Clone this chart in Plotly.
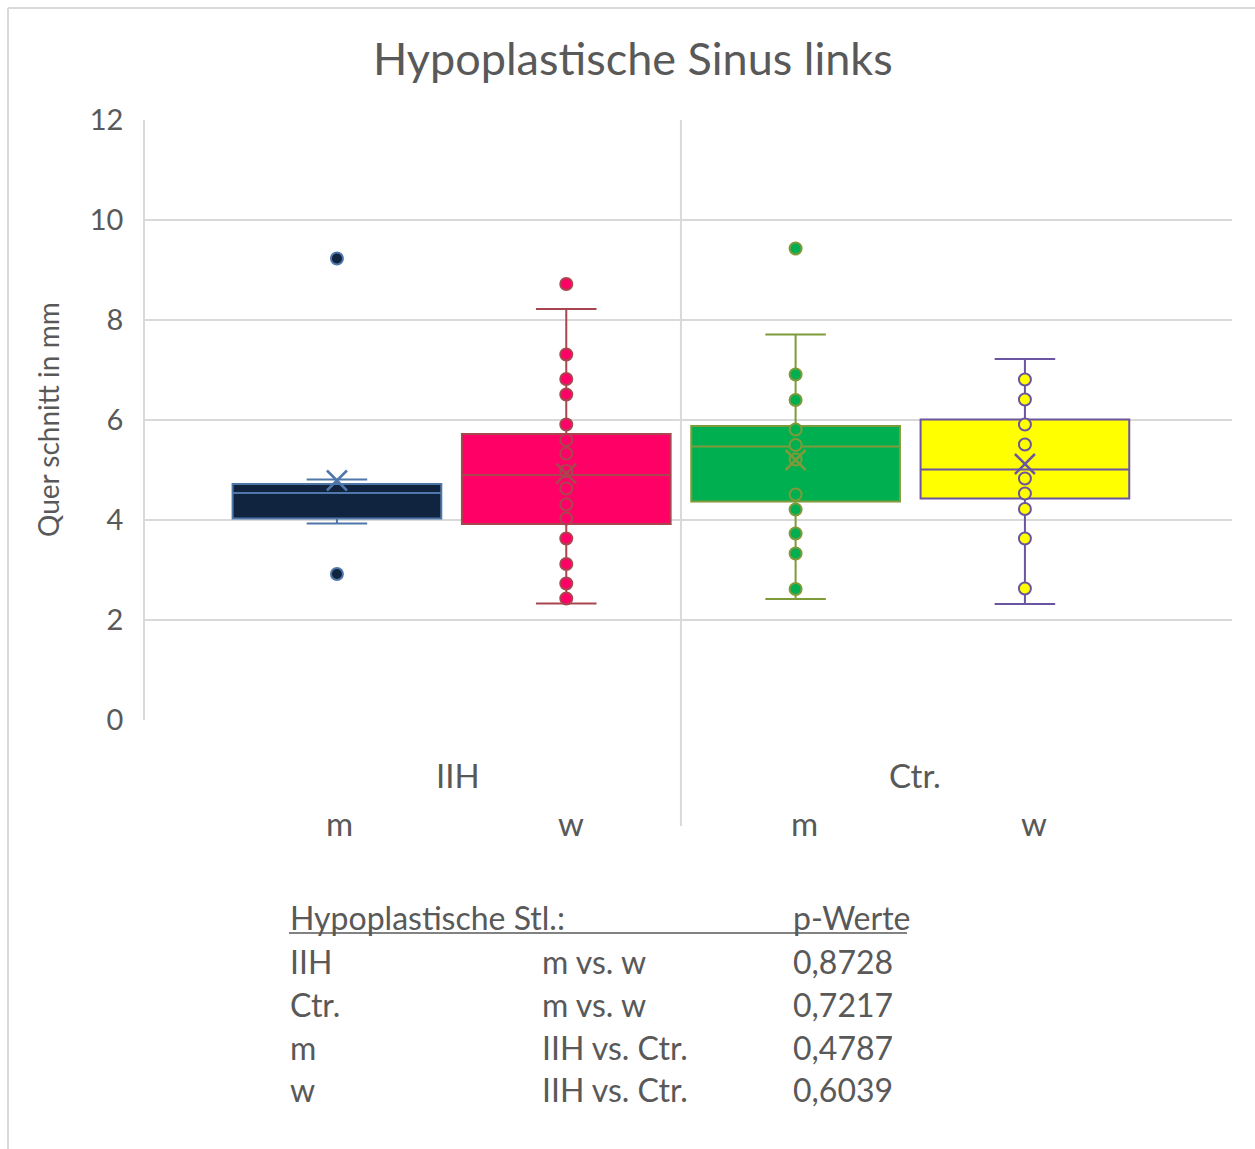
import plotly.graph_objects as go

# Groups and sexes along the category axis
groups = ["IIH", "Ctr."]
sexes = ["m", "w", "m", "w"]

# Box statistics (Querschnitt in mm)
q1 = [4.03, 3.92, 4.37, 4.43]
median = [4.54, 4.90, 5.47, 5.01]
q3 = [4.72, 5.72, 5.88, 6.01]
lower = [3.93, 2.33, 2.42, 2.32]
upper = [4.81, 8.22, 7.71, 7.22]
mean = [4.79, 4.93, 5.20, 5.12]

# Individual points drawn on each box
points_iih_m = [9.23, 2.92]
points_iih_w = [8.72, 7.31, 6.82, 6.51, 5.91, 5.60, 5.33, 4.98, 4.63, 4.31, 4.03, 3.63, 3.12, 2.73, 2.43]
points_ctr_m = [9.43, 6.91, 6.40, 5.81, 5.50, 5.21, 4.51, 4.21, 3.73, 3.33, 2.62]
points_ctr_w = [6.81, 6.41, 5.91, 5.51, 4.83, 4.53, 4.22, 3.63, 2.63]
points = [points_iih_m, points_iih_w, points_ctr_m, points_ctr_w]

# p-value table below the chart
table_header = ["Hypoplastische Stl.:", "p-Werte"]
table_col1 = ["IIH", "Ctr.", "m", "w"]
table_col2 = ["m vs. w", "m vs. w", "IIH vs. Ctr.", "IIH vs. Ctr."]
table_pvalues = ["0,8728", "0,7217", "0,4787", "0,6039"]

fills = ["#10243F", "#FF0066", "#00B050", "#FFFF00"]
lines = ["#4F77AA", "#A8464F", "#7E9A3A", "#6B55A0"]

FONT = "Lato"
GREY = "#595959"
W, H = 1255, 1149
L, R, T, B = 145, 1232, 120, 720  # plot area in pixels


def px(x):
    return (x - L) / (R - L)


def py(y):
    return (B - y) / (B - T)


def label(text, x, y, size, xref="paper", xanchor="center", angle=0):
    return dict(text=text, x=x, y=py(y), xref=xref, yref="paper",
                xanchor=xanchor, yanchor="middle", textangle=angle,
                showarrow=False, font=dict(family=FONT, size=size, color=GREY))


fig = go.Figure()
positions = list(range(len(sexes)))
for i, pos in enumerate(positions):
    fig.add_trace(go.Box(
        x=[pos], q1=[q1[i]], median=[median[i]], q3=[q3[i]],
        lowerfence=[lower[i]], upperfence=[upper[i]],
        width=0.91, whiskerwidth=0.29,
        fillcolor=fills[i], line=dict(color=lines[i], width=2),
        boxpoints=False, hoverinfo="skip", showlegend=False,
    ))
    fig.add_trace(go.Scatter(
        x=[pos] * len(points[i]), y=points[i], mode="markers",
        marker=dict(size=12, color=fills[i], line=dict(color=lines[i], width=2)),
        hoverinfo="skip", showlegend=False,
    ))
    fig.add_trace(go.Scatter(
        x=[pos], y=[mean[i]], mode="markers",
        marker=dict(symbol="x-thin", size=20, line=dict(color=lines[i], width=2.5)),
        hoverinfo="skip", showlegend=False,
    ))

annotations = [
    label("Hypoplastische Sinus links", px(633), 58, 45),
    label("Quer schnitt in mm", px(48), 420, 28, angle=-90),
]
# category labels
label_offsets = [0.01, 0.02, 0.04, 0.04]
for i, s in enumerate(sexes):
    annotations.append(label(s, positions[i] + label_offsets[i], 823, 33, xref="x"))
for g, gx in zip(groups, [0.53, 2.52]):
    annotations.append(label(g, gx, 775, 33, xref="x"))
# table
annotations.append(label(table_header[0], px(288), 917, 32, xanchor="left"))
annotations.append(label(table_header[1], px(791), 917, 32, xanchor="left"))
row_y = [961, 1004, 1047, 1089]
for c1, c2, pv, ry in zip(table_col1, table_col2, table_pvalues, row_y):
    for txt, cx in zip([c1, c2, pv], [288, 540, 791]):
        annotations.append(label(txt, px(cx), ry, 32, xanchor="left"))

shapes = [
    # group divider
    dict(type="line", xref="x", yref="paper", x0=1.5, x1=1.5, y0=py(826), y1=1,
         line=dict(color="#D9D9D9", width=2), layer="below"),
    # table header underline
    dict(type="line", xref="paper", yref="paper", x0=px(289), x1=px(907),
         y0=py(933), y1=py(933), line=dict(color=GREY, width=1.5)),
    # chart frame
    dict(type="line", xref="paper", yref="paper", x0=px(8), x1=px(W), y0=py(8), y1=py(8),
         line=dict(color="#D9D9D9", width=2)),
    dict(type="line", xref="paper", yref="paper", x0=px(8), x1=px(8), y0=py(8), y1=py(H),
         line=dict(color="#D9D9D9", width=2)),
]

fig.update_layout(
    width=W, height=H,
    margin=dict(l=L, r=W - R, t=T, b=H - B),
    paper_bgcolor="white", plot_bgcolor="white",
    xaxis=dict(range=[-0.837, 3.903], showgrid=False, zeroline=False,
               showticklabels=False, fixedrange=True),
    yaxis=dict(range=[0, 12], dtick=2, showgrid=True, gridcolor="#D9D9D9", gridwidth=1.5,
               zeroline=False, showline=True, linecolor="#D9D9D9", linewidth=1.5,
               ticks="", ticklabelstandoff=14,
               tickfont=dict(family=FONT, size=29, color=GREY)),
    annotations=annotations,
    shapes=shapes,
)

fig.write_html("out.html")
